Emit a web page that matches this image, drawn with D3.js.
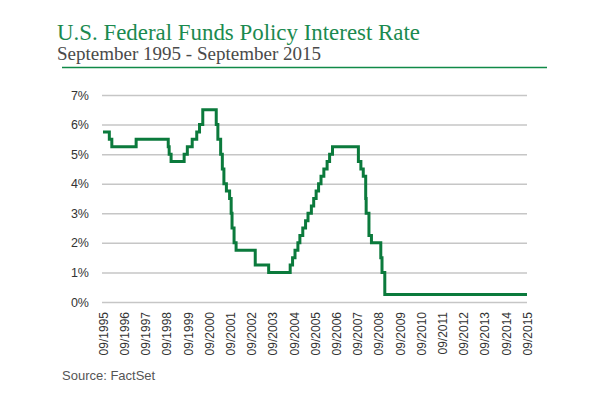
<!DOCTYPE html>
<html>
<head>
<meta charset="utf-8">
<script src="https://cdn.jsdelivr.net/npm/d3@7"></script>
<style>
  html, body { margin: 0; padding: 0; background: #fff; }
  svg { display: block; }
</style>
</head>
<body>
<svg id="chart" width="600" height="400"></svg>
<script>
// ---- Data (Fed funds target rate change dates and levels) ----
const changeDates = [
  "1995-09-01","1995-12-19","1996-01-31","1997-03-25","1998-09-29","1998-10-15","1998-11-17",
  "1999-06-30","1999-08-24","1999-11-16","2000-02-02","2000-03-21","2000-05-16",
  "2001-01-03","2001-01-31","2001-03-20","2001-04-18","2001-05-15","2001-06-27","2001-08-21",
  "2001-09-17","2001-10-02","2001-11-06","2001-12-11","2002-11-06","2003-06-25",
  "2004-06-30","2004-08-10","2004-09-21","2004-11-10","2004-12-14","2005-02-02","2005-03-22",
  "2005-05-03","2005-06-30","2005-08-09","2005-09-20","2005-11-01","2005-12-13","2006-01-31",
  "2006-03-28","2006-05-10","2006-06-29","2007-09-18","2007-10-31","2007-12-11","2008-01-22",
  "2008-01-30","2008-03-18","2008-04-30","2008-10-08","2008-10-29","2008-12-16","2015-09-01"
];
const rates = [
  5.75,5.5,5.25,5.5,5.25,5.0,4.75,
  5.0,5.25,5.5,5.75,6.0,6.5,
  6.0,5.5,5.0,4.5,4.0,3.75,3.5,
  3.0,2.5,2.0,1.75,1.25,1.0,
  1.25,1.5,1.75,2.0,2.25,2.5,2.75,
  3.0,3.25,3.5,3.75,4.0,4.25,4.5,
  4.75,5.0,5.25,4.75,4.5,4.25,3.5,
  3.0,2.25,2.0,1.5,1.0,0.25,0.25
];
const yTicks = [0, 1, 2, 3, 4, 5, 6, 7];
const xTickYears = d3.range(1995, 2016);

const titleText = "U.S. Federal Funds Policy Interest Rate";
const subtitleText = "September 1995 - September 2015";
const sourceText = "Source: FactSet";

// ---- Layout ----
const svg = d3.select("#chart");
const plotLeft = 103, plotRight = 527, plotTop = 95, plotBottom = 302;
const parse = d3.timeParse("%Y-%m-%d");
const data = changeDates.map((d, i) => ({ date: parse(d), value: rates[i] }));

const x = d3.scaleTime()
  .domain([new Date(1995, 8, 1), new Date(2015, 8, 1)])
  .range([plotLeft, plotRight]);
const y = d3.scaleLinear().domain([0, 7]).range([plotBottom, plotTop]);

// Title block
svg.append("text")
  .attr("x", 57).attr("y", 40)
  .attr("font-family", "Liberation Serif, serif")
  .attr("font-size", 23)
  .attr("fill", "#1b8a4f")
  .attr("textLength", 363).attr("lengthAdjust", "spacingAndGlyphs")
  .text(titleText);
svg.append("text")
  .attr("x", 57).attr("y", 60)
  .attr("font-family", "Liberation Serif, serif")
  .attr("font-size", 19)
  .attr("fill", "#4a4a4a")
  .attr("textLength", 264).attr("lengthAdjust", "spacingAndGlyphs")
  .text(subtitleText);
svg.append("line")
  .attr("x1", 62).attr("x2", 547).attr("y1", 67.5).attr("y2", 67.5)
  .attr("stroke", "#108a48").attr("stroke-width", 1.5);

// Y axis with gridlines
const yAxis = d3.axisLeft(y)
  .tickValues(yTicks)
  .tickSize(-(plotRight - plotLeft + 1))
  .tickPadding(13)
  .tickFormat(d => d + "%");
const gy = svg.append("g").attr("transform", `translate(${plotLeft - 1},0)`).call(yAxis);
gy.select(".domain").remove();
gy.selectAll(".tick line").attr("stroke", "#c6c6c6").attr("stroke-width", 1.5);
gy.selectAll(".tick text")
  .attr("font-family", "Liberation Sans, Arial, sans-serif")
  .attr("font-size", 12.5)
  .attr("fill", "#333");

// X axis
const xAxis = d3.axisBottom(x)
  .tickValues(xTickYears.map(yr => new Date(yr, 8, 1)))
  .tickSize(0)
  .tickFormat(d3.timeFormat("%m/%Y"));
const gx = svg.append("g").attr("transform", `translate(0,${plotBottom})`).call(xAxis);
gx.select(".domain").remove();
gx.selectAll(".tick text")
  .attr("font-family", "Liberation Sans, Arial, sans-serif")
  .attr("font-size", 12)
  .attr("fill", "#333")
  .attr("text-anchor", "end")
  .attr("transform", "rotate(-90)")
  .attr("x", -10).attr("y", 0).attr("dy", "0.35em");

// Line
const line = d3.line()
  .x(d => x(d.date))
  .y(d => y(d.value))
  .curve(d3.curveStepAfter);
svg.append("path")
  .datum(data)
  .attr("d", line)
  .attr("fill", "none")
  .attr("stroke", "#0b7a3c")
  .attr("stroke-width", 3)
  .attr("stroke-linejoin", "miter");

// Source
svg.append("text")
  .attr("x", 62).attr("y", 380)
  .attr("font-family", "Liberation Sans, Arial, sans-serif")
  .attr("font-size", 13)
  .attr("fill", "#555")
  .text(sourceText);
</script>
</body>
</html>
